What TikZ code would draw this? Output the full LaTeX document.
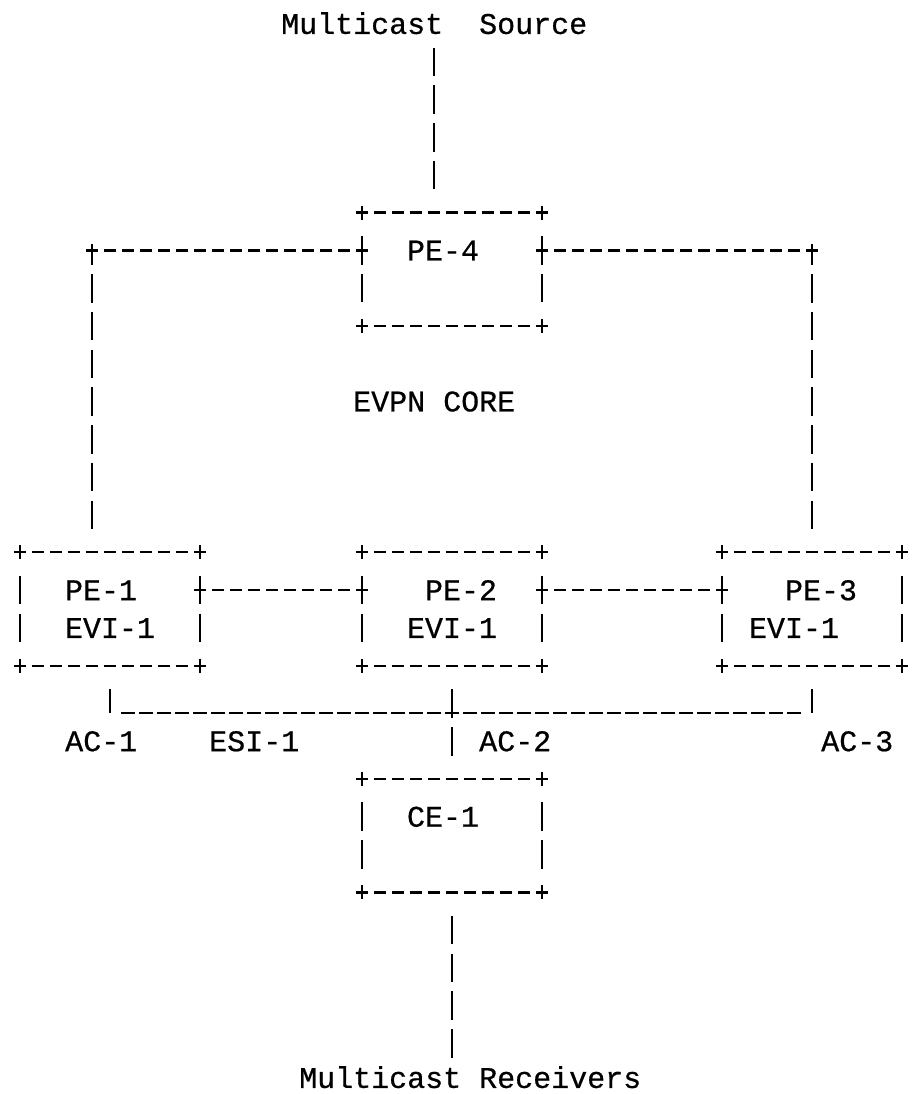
\documentclass[tikz,border=0pt]{standalone}
\usepackage{fontspec}
\newfontfamily\asciifont{Liberation Mono}[FakeBold=0.6]
\usetikzlibrary{positioning}
\setlength{\parindent}{0pt}

\newcommand{\asciitype}{\asciifont\fontsize{30pt}{37.75pt}\selectfont}
\newcommand{\cellstrut}{\rule[-8.95pt]{0pt}{37.75pt}}
\newcommand{\indentby}[1]{\hspace*{#1\dimexpr18pt\relax}}

\tikzstyle{hline} = [draw, line width=2.3pt, dash pattern=on 11.7pt off 6.3pt, shorten <=-5.85pt, shorten >=-5.85pt]
\tikzstyle{boxside} = [draw, line width=2.3pt, dash pattern=on 14pt off 16.5pt on 28.5pt off 9.25pt on 28.5pt off 16.5pt on 14pt off 20pt, shorten <=-7pt, shorten >=-7pt]
\tikzstyle{vline} = [draw, line width=2.3pt, dash pattern=on 28.5pt off 9.25pt, dash phase=33.125pt]
\tikzstyle{vcorner} = [vline, dash phase=7.25pt, shorten <=-7pt]
\tikzstyle{busline} = [draw, line width=2.3pt, dash pattern=on 13.5pt off 4.5pt, dash phase=15.75pt, shorten <=9pt, shorten >=9pt]
\tikzstyle{asciitext} = [font=\asciitype, inner sep=0pt, text height=28.8pt, text depth=8.95pt, anchor=west]
\tikzstyle{nodebox} = [font=\asciitype, inner sep=0pt, minimum width=180pt, minimum height=113.25pt, text width=162pt, align=left,
  append after command={(\tikzlastnode.north west) edge[hline] (\tikzlastnode.north east)
    (\tikzlastnode.south west) edge[hline] (\tikzlastnode.south east)
    (\tikzlastnode.north west) edge[boxside] (\tikzlastnode.south west)
    (\tikzlastnode.north east) edge[boxside] (\tikzlastnode.south east)}]

\begin{document}
\begin{tikzpicture}[x=18pt, y=-37.75pt]
\useasboundingbox (-20pt,24pt) rectangle (897pt,-1070pt);

% boxes
\node (pe4) [nodebox] at (24,6.5) {\cellstrut\indentby{2}PE-4\\\cellstrut};
\node (pe1) [nodebox] at (5,15.5) {\cellstrut\indentby{2}PE-1\\\cellstrut\indentby{2}EVI-1};
\node (pe2) [nodebox] at (24,15.5) {\cellstrut\indentby{3}PE-2\\\cellstrut\indentby{2}EVI-1};
\node (pe3) [nodebox] at (44,15.5) {\cellstrut\indentby{3}PE-3\\\cellstrut\indentby{1}EVI-1};
\node (ce1) [nodebox] at (24,21.5) {\cellstrut\indentby{2}CE-1\\\cellstrut};

% labels
\node (src) [asciitext] at (14.5,0) {Multicast\ \ Source};
\node (core) [asciitext] at (18.5,10) {EVPN CORE};
\node (ac1) [asciitext] at (2.5,19) {AC-1};
\node (esi) [asciitext] at (10.5,19) {ESI-1};
\node (ac2) [asciitext] at (25.5,19) {AC-2};
\node (ac3) [asciitext] at (44.5,19) {AC-3};
\node (rcv) [asciitext, text height=25.8pt, text depth=1pt, anchor=base west] at (15.5,28.183) {Multicast Receivers};

\coordinate (lturn) at (4,6);
\coordinate (rturn) at (44,6);
\coordinate (bus) at (24,18.25);

% core links
\draw [vline, shorten >=18.875pt] (src.south) -- (src.south |- pe4.north);
\draw [hline] (pe4.west |- lturn) -- (lturn);
\draw [vcorner, shorten >=18.875pt] (lturn) -- (lturn |- pe1.north);
\draw [hline] (pe4.east |- rturn) -- (rturn);
\draw [vcorner, shorten >=18.875pt] (rturn) -- (pe3.north);
\draw [hline] ([yshift=18.875pt]pe1.east) -- ([yshift=18.875pt]pe2.west);
\draw [hline] ([yshift=18.875pt]pe2.east) -- ([yshift=18.875pt]pe3.west);

% access side
\draw [vline, shorten <=18.875pt] (pe1.south) -- (pe1.south |- bus);
\draw [vline, shorten <=18.875pt] (pe3.south) -- (pe3.south |- bus);
\draw [busline] (pe1.south |- bus) -- (pe3.south |- bus);
\draw [vline, shorten <=18.875pt, shorten >=18.875pt] (pe2) -- (ce1);
\draw [vline, shorten <=18.875pt] (ce1.south) -- (ce1.south |- rcv.north);

\end{tikzpicture}
\end{document}
